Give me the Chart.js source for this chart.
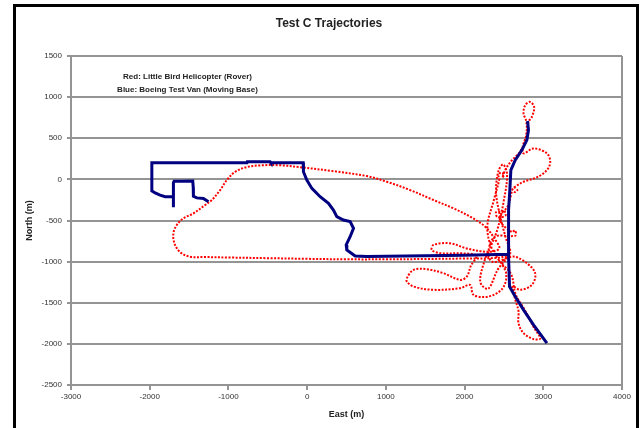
<!DOCTYPE html>
<html>
<head>
<meta charset="utf-8">
<script src="https://cdn.jsdelivr.net/npm/chart.js@4.4.0/dist/chart.umd.min.js"></script>
<style>
  html, body { margin: 0; padding: 0; background: #fff; overflow: hidden; }
  #wrap { position: relative; width: 642px; height: 428px; }
  #wrap canvas { position: absolute; left: 0; top: 0; }
  #frame { position: absolute; left: 13px; top: 4px; width: 620px; height: 440px; border: 3px solid #000; pointer-events: none; }
</style>
</head>
<body>
<div id="wrap"><canvas id="c" width="642" height="428"></canvas><div id="frame"></div></div>
<script>
'use strict';

// --- data (metres east / north) ---
const xTicks = [-3000, -2000, -1000, 0, 1000, 2000, 3000, 4000];
const yTicks = [-2500, -2000, -1500, -1000, -500, 0, 500, 1000, 1500];

// Boeing test van (moving base); null = break in the track
const vanEast = [
  -1699, -1699, -1699, -1690, -1600, -1453, -1447, -1445, -1400, -1318, -1254,
  null,
  -1699, -1804, -1868, -1931, -1973, -1973, -765, -760, -470, -460, -50, -47, -4, 60, 165, 271, 334, 377, 461, 546, 589, 546, 496, 504, 610, 758, 1500, 2000, 2558,
  2558, 2560, 2575, 2588, 2643, 2728, 2791, 2812, 2800,
  null,
  2558, 2571, 2643, 2749, 2876, 3046
];
const vanNorth = [
  -340, -211, -40, -22, -22, -20, -100, -205, -225, -232, -272,
  null,
  -211, -211, -192, -165, -140, 201, 201, 214, 214, 201, 201, 92, -8, -110, -211, -291, -373, -454, -494, -514, -595, -697, -797, -858, -931, -937, -930, -922, -910,
  -600, -373, -130, 113, 234, 356, 477, 598, 710,
  null,
  -910, -1303, -1425, -1586, -1768, -1990
];

// Little Bird helicopter (rover)
const heliEast = [
  2580, 2400, 2000, 1500, 1000, 500, 0, -500, -1000, -1300, -1490,
  -1614, -1686, -1699, -1656, -1571, -1444, -1296, -1211, -1105, -1020, -915, -766, -597, -343, -90,
  334, 758, 1013, 1309, 1605, 1859, 2071, 2262, 2380, 2440,
  2300, 2029, 1817, 1605, 1584, 1690, 1986, 2150,
  2080, 2030, 1944, 1732, 1520, 1351, 1267, 1267, 1351, 1605, 1944, 2071,
  2110, 2250, 2400, 2500, 2530, 2480,
  2622, 2791, 2897, 2855, 2707, 2610,
  2640, 2685, 2685, 2749, 2876, 2961, 2880, 2760, 2650, 2590,
  2450, 2330, 2290, 2370, 2440, 2430, 2460, 2500, 2480, 2520,
  2600, 2700, 2760, 2790, 2780, 2749, 2770, 2833, 2884, 2855, 2812, 2790, 2740,
  2749, 2876, 3046, 3088, 3046, 2918, 2749, 2643, 2610, 2640, 2670, 2620,
  2560, 2500, 2400, 2420, 2520, 2500, 2450, 2600, 2640, 2650, 2600, 2380, 2300, 2350, 2480, 2580,
  2520, 2440, 2400, 2430, 2490, 2540, 2500, 2420, 2330, 2250, 2200, 2300, 2420, 2540
];
const heliNorth = [
  -925, -955, -962, -968, -972, -972, -966, -958, -950, -944, -940,
  -885, -777, -655, -555, -473, -413, -312, -251, -130, -8, 92, 150, 170, 172, 148,
  100, 40, -29, -130, -251, -352, -454, -575, -720, -840,
  -880, -840, -777, -797, -858, -898, -900, -930,
  -1050, -1180, -1222, -1141, -1092, -1101, -1201, -1243, -1303, -1343, -1323, -1283,
  -1400, -1430, -1390, -1300, -1150, -1000,
  -939, -1019, -1141, -1283, -1343, -1300,
  -1450, -1600, -1748, -1869, -1942, -1935, -1800, -1580, -1400, -1150,
  -1000, -800, -560, -260, 0, 50, 80, 60, 20, 120,
  230, 330, 450, 600, 720, 801, 902, 942, 881, 760, 699, 550, 400,
  316, 376, 316, 214, 113, 24, -29, -90, -120, -155, -130, -100,
  -300, -380, -400, -460, -440, -380, -500, -640, -620, -680, -690, -700, -900, -1000, -980, -900,
  -700, -400, -150, 100, 180, 60, -250, -600, -820, -1000, -1250, -1330, -1100, -960
];

const legendLines = ['Red: Little Bird Helicopter (Rover)', 'Blue: Boeing Test Van (Moving Base)'];

function toPts(xs, ys){ return xs.map((x, i) => ({ x: x, y: ys[i] })); }

const GRID = '#949494';
const TXT = '#333';
const FONT = "'Liberation Sans', Arial, sans-serif";

// right edge of the plot area + the two-line note inside the plot
const extras = {
  id: 'extras',
  beforeDatasetsDraw(chart){
    const { ctx, chartArea: a } = chart;
    ctx.save();
    ctx.strokeStyle = GRID; ctx.lineWidth = 2;
    ctx.beginPath(); ctx.moveTo(a.right, a.top); ctx.lineTo(a.right, a.bottom); ctx.stroke();
    ctx.restore();
  },
  afterDraw(chart){
    const { ctx } = chart;
    const xs = chart.scales.x, ys = chart.scales.y;
    const cx = xs.getPixelForValue(-1520);
    ctx.save();
    ctx.fillStyle = '#222';
    ctx.font = 'bold 8px ' + FONT;
    ctx.textAlign = 'center'; ctx.textBaseline = 'middle';
    ctx.fillText(legendLines[0], cx, ys.getPixelForValue(1245));
    ctx.fillText(legendLines[1], cx, ys.getPixelForValue(1085));
    ctx.restore();
  }
};

new Chart(document.getElementById('c'), {
  type: 'line',
  data: {
    datasets: [
      { label: 'Boeing Test Van (Moving Base)', data: toPts(vanEast, vanNorth), borderColor: '#000080', borderWidth: 3,
        pointRadius: 0, tension: 0, spanGaps: false, fill: false },
      { label: 'Little Bird Helicopter (Rover)', data: toPts(heliEast, heliNorth), borderColor: '#ff0000', borderWidth: 2,
        borderDash: [2, 1.5], pointRadius: 0, tension: 0.35, fill: false }
    ]
  },
  options: {
    responsive: false, animation: false,
    layout: { padding: { left: 16, right: 0, top: 0, bottom: 0 } },
    plugins: {
      legend: { display: false }, tooltip: { enabled: false },
      title: { display: true, text: 'Test C Trajectories', color: '#222',
        font: { family: FONT, size: 12, weight: 'bold' },
        padding: { top: 16, bottom: 25.6 } }
    },
    scales: {
      x: {
        type: 'linear', min: -3000, max: 4000,
        afterBuildTicks: s => { s.ticks = xTicks.map(v => ({ value: v })); },
        afterFit: s => { s.height = 43; s.paddingRight = 20; },
        grid: { drawOnChartArea: false, color: GRID, lineWidth: 2, tickLength: 5 },
        border: { color: GRID, width: 2 },
        ticks: { color: TXT, padding: 2, maxRotation: 0, callback: v => String(v), font: { family: FONT, size: 8 } },
        title: { display: true, text: 'East (m)', color: '#222', padding: { top: 0, bottom: 7.6 },
          font: { family: FONT, size: 9, weight: 'bold' } }
      },
      y: {
        type: 'linear', min: -2500, max: 1500,
        afterBuildTicks: s => { s.ticks = yTicks.map(v => ({ value: v })); },
        afterFit: s => { s.width = 55; },
        grid: { color: GRID, lineWidth: 2, tickLength: 4 },
        border: { color: GRID, width: 2 },
        ticks: { color: TXT, padding: 5, callback: v => String(v), font: { family: FONT, size: 8 } },
        title: { display: true, text: 'North (m)', color: '#222', padding: { top: 8, bottom: 0 },
          font: { family: FONT, size: 9, weight: 'bold' } }
      }
    }
  },
  plugins: [extras]
});
</script>
</body>
</html>
